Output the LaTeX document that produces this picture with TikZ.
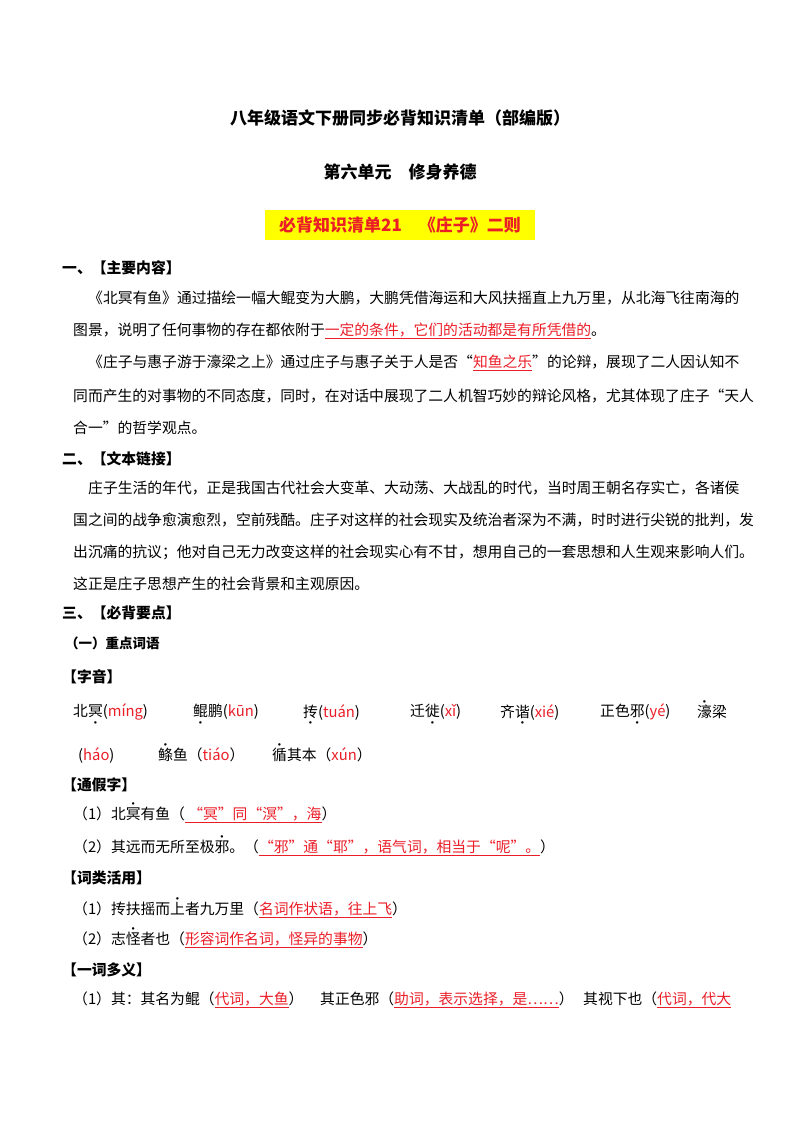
\documentclass[tikz,border=0pt]{standalone}
\usepackage{fontspec}
\setmainfont{Noto Sans CJK SC}
\usepackage{xcolor}
\definecolor{rd}{RGB}{235,30,40}
\definecolor{hl}{RGB}{255,255,0}
\newcommand\ru[1]{\textcolor{rd}{\underline{#1}}}
\newcommand\rt[1]{\textcolor{rd}{#1}}
\newcommand\db[1]{\ooalign{#1\cr\hfil\smash{\raisebox{-0.5em}{\scalebox{.45}{$\bullet$}}}\hfil\cr}}
\newcommand\da[1]{\ooalign{#1\cr\hfil\smash{\raisebox{0.95em}{\scalebox{.45}{$\bullet$}}}\hfil\cr}}
\tikzset{tx/.style={anchor=west,inner sep=0pt,font=\fontsize{14.8}{16}\selectfont},
hd/.style={anchor=west,inner sep=0pt,font=\fontsize{14.8}{16}\selectfont\bfseries},
ti/.style={inner sep=0pt,font=\fontsize{17}{19}\selectfont\bfseries}}
\begin{document}
\begin{tikzpicture}[x=1pt,y=-1pt]
\useasboundingbox (0,0) rectangle (800,1132);
\fill[white] (0,0) rectangle (800,1132);
\node[ti] (t1) at (400,118) {八年级语文下册同步必背知识清单（部编版）};
\node[ti] (t2) at (400,172) {第六单元\quad 修身养德};
\fill[hl] (265,210) rectangle (535,240);
\node[ti,text=rd] (t3) at (400,225) {必背知识清单21\quad 《庄子》二则};
\node[hd] (h1) at (62,268) {一、【主要内容】};
\node[tx] (p1) at (88,298) {《北冥有鱼》通过描绘一幅大鲲变为大鹏，大鹏凭借海运和大风扶摇直上九万里，从北海飞往南海的};
\node[tx] (p2) at (73,331) {图景，说明了任何事物的存在都依附于\ru{一定的条件，它们的活动都是有所凭借的}。};
\node[tx] (p3) at (88,363) {《庄子与惠子游于濠梁之上》通过庄子与惠子关于人是否“\ru{知鱼之乐}”的论辩，展现了二人因认知不};
\node[tx] (p4) at (73,396) {同而产生的对事物的不同态度，同时，在对话中展现了二人机智巧妙的辩论风格，尤其体现了庄子“天人};
\node[tx] (p5) at (73,428) {合一”的哲学观点。};
\node[hd] (h2) at (62,459) {二、【文本链接】};
\node[tx] (q1) at (88,488) {庄子生活的年代，正是我国古代社会大变革、大动荡、大战乱的时代，当时周王朝名存实亡，各诸侯};
\node[tx] (q2) at (73,520) {国之间的战争愈演愈烈，空前残酷。庄子对这样的社会现实及统治者深为不满，时时进行尖锐的批判，发};
\node[tx] (q3) at (73,552) {出沉痛的抗议；他对自己无力改变这样的社会现实心有不甘，想用自己的一套思想和人生观来影响人们。};
\node[tx] (q4) at (73,584) {这正是庄子思想产生的社会背景和主观原因。};
\node[hd] (h3) at (62,613) {三、【必背要点】};
\node[hd,font=\fontsize{13.5}{15}\selectfont\bfseries] (h4) at (65,643) {（一）重点词语};
\node[hd] (h5) at (62,677) {【字音】};
\node[tx] (z1) at (73,712) {北\db{冥}(\rt{míng})};
\node[tx] (z2) at (193,712) {\db{鲲}鹏(\rt{kūn})};
\node[tx] (z3) at (303,712) {\db{抟}(\rt{tuán})};
\node[tx] (z4) at (410,712) {迁\db{徙}(\rt{xǐ})};
\node[tx] (z5) at (500,712) {齐\db{谐}(\rt{xié})};
\node[tx] (z6) at (600,712) {正色\db{邪}(\rt{yé})};
\node[tx] (z7) at (697,712) {\da{濠}梁};
\node[tx] (z8) at (78,755) {(\rt{háo})};
\node[tx] (z9) at (158,755) {\da{鲦}鱼（\rt{tiáo}）};
\node[tx] (z10) at (272,755) {\da{循}其本（\rt{xún}）};
\node[hd] (h6) at (62,785) {【通假字】};
\node[tx] (a1) at (73,815) {（1）北\da{冥}有鱼（\ru{ “冥”同“溟”，海}）};
\node[tx] (a2) at (73,848) {（2）其远而无所至极\da{邪}。（\ru{“邪”通“耶”，语气词，相当于“呢”。}）};
\node[hd] (h7) at (62,878) {【词类活用】};
\node[tx] (b1) at (73,910) {（1）抟扶摇而\da{上}者九万里（\ru{名词作状语，往上飞}）};
\node[tx] (b2) at (73,940) {（2）志\da{怪}者也（\ru{形容词作名词，怪异的事物}）};
\node[hd] (h8) at (62,970) {【一词多义】};
\node[tx] (c1) at (73,1000) {（1）其：其名为鲲（\ru{代词，大鱼}）};
\node[tx] (c2) at (320,1000) {其正色邪（\ru{助词，表示选择，是……}）};
\node[tx] (c3) at (583,1000) {其视下也（\ru{代词，代大}};
\end{tikzpicture}
\end{document}
